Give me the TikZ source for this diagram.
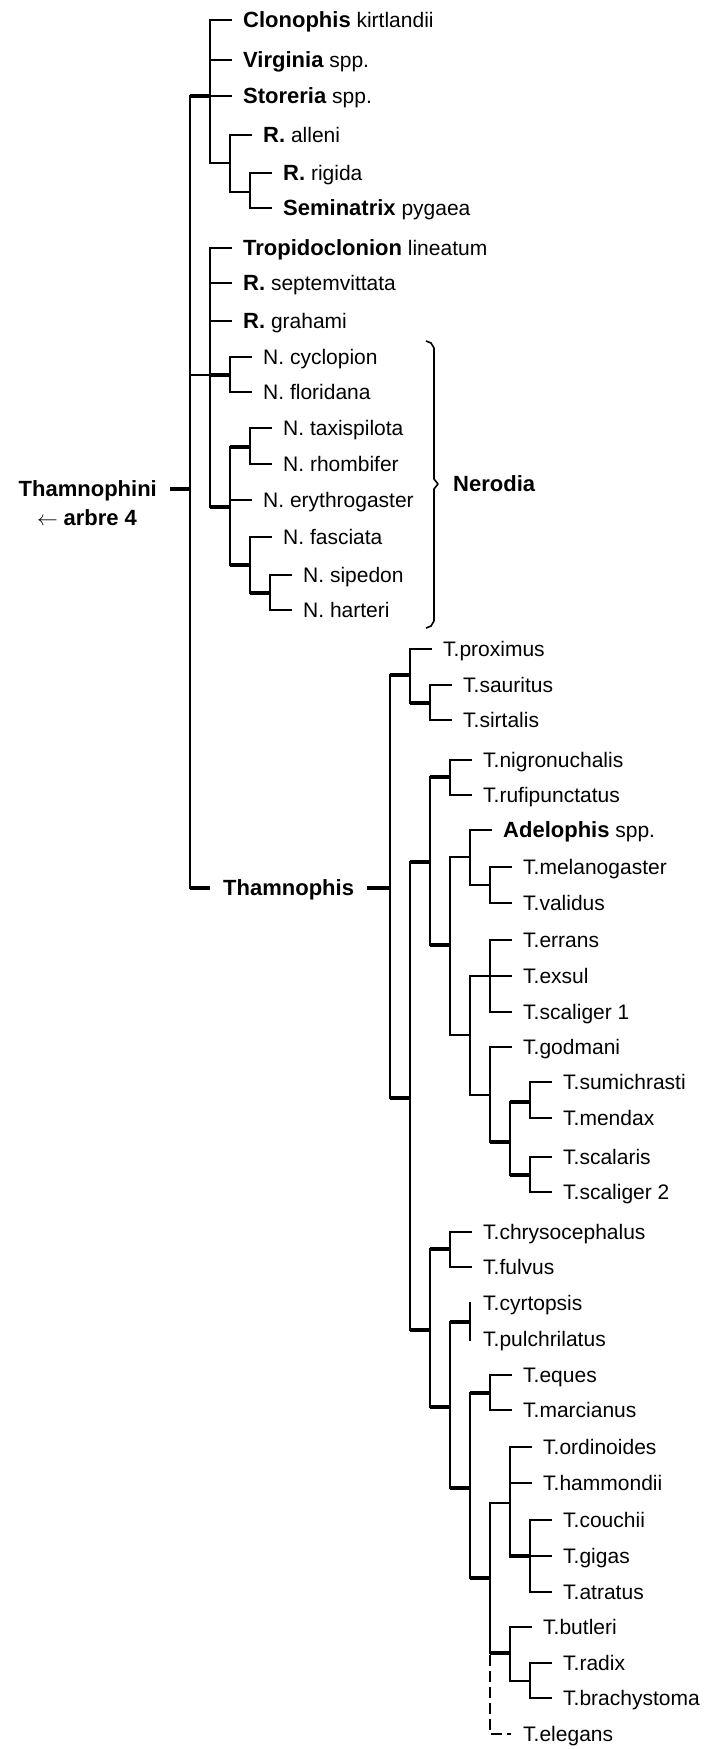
\documentclass[tikz,border=0pt]{standalone}
\usepackage{fontspec}
\setmainfont{Liberation Sans}
\newcommand\Bf[1]{{\fontsize{22}{25}\selectfont\bfseries #1}}
\begin{document}
\begin{tikzpicture}[x=1pt,y=-1pt,
  br/.style={line width=1.6pt, line cap=rect},
  bk/.style={line width=4pt},
  dsh/.style={line width=1.6pt, dash pattern=on 11pt off 5pt},
  leaf/.style={anchor=west, inner xsep=12pt, inner ysep=0pt, text height=15pt, text depth=1pt, font=\fontsize{21}{25}\selectfont},
  lbl/.style={inner sep=0pt, text height=15pt, text depth=1pt, font=\fontsize{21}{25}\selectfont},
  ]
\fill[white] (0,0) rectangle (706,1749);
\useasboundingbox (0,0) rectangle (706,1749);
\newcommand\tipL[4]{\node[leaf] (#1) at ({#2+21},#3) {#4}; \draw[br] (#2,#3) -- (#1.west);}

% root
\node[lbl, anchor=east, inner xsep=13pt] (thi) at (170,489) {\Bf{Thamnophini}};
\node[lbl] (arb) at (87,518) {$\leftarrow$ \Bf{arbre 4}};
\draw[br] (190,96) -- (190,888);
\draw[bk] (thi.east) -- (190,489);

% first group
\draw[bk] (190,96) -- (210,96);
\draw[br] (210,20) -- (210,163);
\tipL{clo}{210}{20}{\Bf{Clonophis} kirtlandii}
\tipL{vir}{210}{60}{\Bf{Virginia} spp.}
\tipL{sto}{210}{96}{\Bf{Storeria} spp.}
\draw[br] (210,163) -- (230,163);
\draw[br] (230,135) -- (230,192);
\tipL{ral}{230}{135}{\Bf{R.} alleni}
\draw[br] (230,192) -- (250,192);
\draw[br] (250,173) -- (250,208);
\tipL{rri}{250}{173}{\Bf{R.} rigida}
\tipL{sem}{250}{208}{\Bf{Seminatrix} pygaea}

% second group
\draw[br] (190,375) -- (210,375);
\draw[br] (210,248) -- (210,507);
\tipL{tro}{210}{248}{\Bf{Tropidoclonion} lineatum}
\tipL{rse}{210}{283}{\Bf{R.} septemvittata}
\tipL{rgr}{210}{321}{\Bf{R.} grahami}
\draw[bk] (210,375) -- (230,375);
\draw[br] (230,357) -- (230,392);
\tipL{ncy}{230}{357}{N. cyclopion}
\tipL{nfl}{230}{392}{N. floridana}
\draw[bk] (210,507) -- (230,507);
\draw[br] (230,447) -- (230,565);
\draw[bk] (230,447) -- (250,447);
\draw[br] (250,428) -- (250,464);
\tipL{nta}{250}{428}{N. taxispilota}
\tipL{nrh}{250}{464}{N. rhombifer}
\tipL{ner}{230}{500}{N. erythrogaster}
\draw[bk] (230,565) -- (250,565);
\draw[br] (250,537) -- (250,593);
\tipL{nfa}{250}{537}{N. fasciata}
\draw[bk] (250,593) -- (270,593);
\draw[br] (270,575) -- (270,610);
\tipL{nsi}{270}{575}{N. sipedon}
\tipL{nha}{270}{610}{N. harteri}

% brace
\draw[line width=1.6pt, line join=round] (426,341) -- (431,343) -- (434,348) -- (434,479) -- (438,484) -- (434,489) -- (434,621) -- (431,626) -- (426,628);
\node[leaf, inner xsep=0pt] (nero) at (453,484) {\Bf{Nerodia}};

% Thamnophis
\node[lbl, anchor=west, inner xsep=13pt] (tmp) at (210,888) {\Bf{Thamnophis}};
\draw[bk] (190,888) -- (tmp.west);
\draw[bk] (tmp.east) -- (390,888);
\draw[br] (390,675) -- (390,1098);
\draw[bk] (390,675) -- (410,675);
\draw[br] (410,649) -- (410,703);
\tipL{tpr}{410}{649}{T.proximus}
\draw[bk] (410,703) -- (430,703);
\draw[br] (430,685) -- (430,720);
\tipL{tsa}{430}{685}{T.sauritus}
\tipL{tsi}{430}{720}{T.sirtalis}
\draw[bk] (390,1098) -- (410,1098);
\draw[br] (410,862) -- (410,1330);
\draw[bk] (410,862) -- (430,862);
\draw[br] (430,777) -- (430,945);
\draw[bk] (430,777) -- (450,777);
\draw[br] (450,760) -- (450,795);
\tipL{tni}{450}{760}{T.nigronuchalis}
\tipL{tru}{450}{795}{T.rufipunctatus}
\draw[bk] (430,945) -- (450,945);
\draw[br] (450,857) -- (450,1035);
\draw[br] (450,857) -- (470,857);
\draw[br] (470,830) -- (470,885);
\tipL{ade}{470}{830}{\Bf{Adelophis} spp.}
\draw[br] (470,885) -- (490,885);
\draw[br] (490,867) -- (490,903);
\tipL{tme}{490}{867}{T.melanogaster}
\tipL{tva}{490}{903}{T.validus}
\draw[br] (450,1035) -- (470,1035);
\draw[br] (470,976) -- (470,1095);
\draw[br] (470,976) -- (490,976);
\draw[br] (490,940) -- (490,1012);
\tipL{ter}{490}{940}{T.errans}
\tipL{tex}{490}{976}{T.exsul}
\tipL{ts1}{490}{1012}{T.scaliger 1}
\draw[br] (470,1095) -- (490,1095);
\draw[br] (490,1047) -- (490,1142);
\tipL{tgo}{490}{1047}{T.godmani}
\draw[bk] (490,1142) -- (510,1142);
\draw[br] (510,1102) -- (510,1175);
\draw[bk] (510,1102) -- (530,1102);
\draw[br] (530,1082) -- (530,1118);
\tipL{tsu}{530}{1082}{T.sumichrasti}
\tipL{tmd}{530}{1118}{T.mendax}
\draw[bk] (510,1175) -- (530,1175);
\draw[br] (530,1157) -- (530,1192);
\tipL{tsc}{530}{1157}{T.scalaris}
\tipL{ts2}{530}{1192}{T.scaliger 2}
\draw[bk] (410,1330) -- (430,1330);
\draw[br] (430,1249) -- (430,1407);
\draw[bk] (430,1249) -- (450,1249);
\draw[br] (450,1232) -- (450,1267);
\tipL{tch}{450}{1232}{T.chrysocephalus}
\tipL{tfu}{450}{1267}{T.fulvus}
\draw[bk] (430,1407) -- (450,1407);
\draw[br] (450,1322) -- (450,1488);
\draw[bk] (450,1322) -- (470,1322);
\draw[br] (470,1303) -- (470,1340);
\node[leaf] (tcy) at (471,1303) {T.cyrtopsis};
\node[leaf] (tpu) at (471,1339) {T.pulchrilatus};
\draw[bk] (450,1488) -- (470,1488);
\draw[br] (470,1393) -- (470,1578);
\draw[bk] (470,1393) -- (490,1393);
\draw[br] (490,1375) -- (490,1410);
\tipL{teq}{490}{1375}{T.eques}
\tipL{tma}{490}{1410}{T.marcianus}
\draw[bk] (470,1578) -- (490,1578);
\draw[br] (490,1503) -- (490,1653);
\draw[br] (490,1503) -- (510,1503);
\draw[br] (510,1447) -- (510,1557);
\tipL{tor}{510}{1447}{T.ordinoides}
\tipL{tha}{510}{1483}{T.hammondii}
\draw[bk] (510,1556) -- (530,1556);
\draw[br] (530,1520) -- (530,1592);
\tipL{tco}{530}{1520}{T.couchii}
\tipL{tgi}{530}{1556}{T.gigas}
\tipL{tat}{530}{1592}{T.atratus}
\draw[bk] (490,1653) -- (510,1653);
\draw[br] (510,1627) -- (510,1681);
\tipL{tbu}{510}{1627}{T.butleri}
\draw[br] (510,1681) -- (530,1681);
\draw[br] (530,1663) -- (530,1698);
\tipL{tra}{530}{1663}{T.radix}
\tipL{tbr}{530}{1698}{T.brachystoma}
\node[leaf] (tel) at (511,1734) {T.elegans};
\draw[dsh] (490,1655) -- (490,1734) -- (tel.west);
\end{tikzpicture}
\end{document}
